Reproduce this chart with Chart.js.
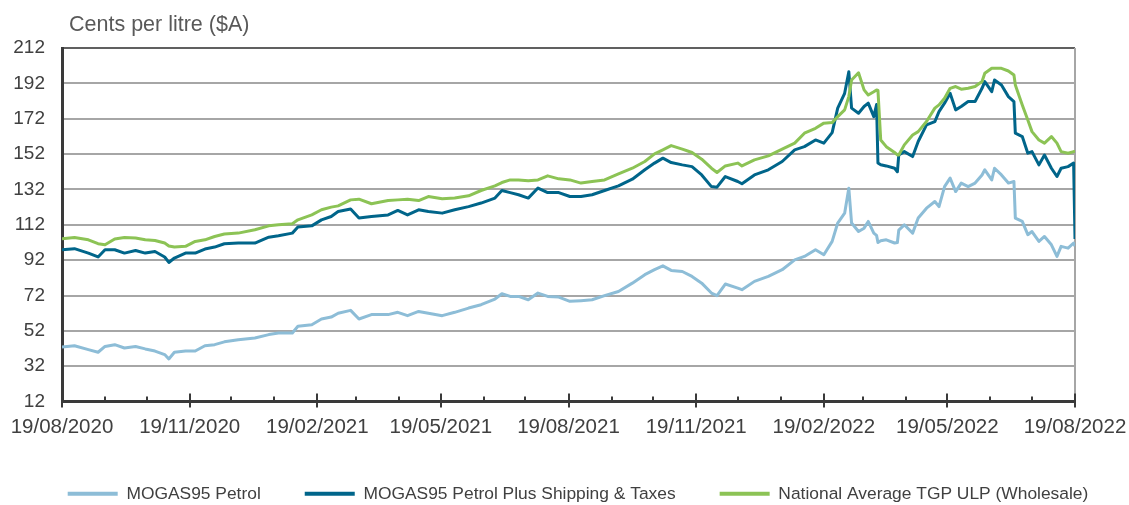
<!DOCTYPE html>
<html>
<head>
<meta charset="utf-8">
<script src="https://cdn.jsdelivr.net/npm/chart.js@4.4.1/dist/chart.umd.min.js"></script>
<style>
  html, body { margin: 0; padding: 0; background: #fff; }
</style>
</head>
<body>
<canvas id="chart" width="1129" height="505"></canvas>
<script>
// axis labels
const yTitle = 'Cents per litre ($A)';
const tickLabels = ['19/08/2020', '19/11/2020', '19/02/2021', '19/05/2021', '19/08/2021',
                    '19/11/2021', '19/02/2022', '19/05/2022', '19/08/2022'];
const yMin = 12, yMax = 212, yStep = 20;

// days after 19/08/2020
const days = [0, 9, 19, 26, 31, 38, 45, 53, 60, 67, 74, 77, 81, 89, 96, 103, 110, 117, 127, 139,
  149, 156, 166, 170, 180, 187, 194, 199, 208, 214, 223, 235, 242, 249, 257, 264, 274, 283, 293, 302,
  312, 317, 323, 329, 336, 343, 350, 358, 366, 374, 382, 391, 401, 411, 420, 427, 433, 439, 447, 454,
  461, 468, 472, 478, 487, 490, 499, 509, 519, 528, 535, 543, 549, 555, 559, 564, 567, 569, 574, 578,
  581, 585, 587, 588, 590, 594, 600, 602, 603, 607, 613, 617, 623, 629, 632, 636, 640, 644, 648, 653,
  658, 663, 665, 670, 672, 677, 682, 686, 687, 692, 696, 699, 704, 708, 713, 717, 720, 725, 729, 730];

const mogas = [42.9, 43.6, 41.4, 39.9, 43.2, 44.2, 42.3, 43.2, 41.8, 40.6, 38.6, 36.1, 39.9, 40.6, 40.6, 43.6, 44.2, 45.8, 47, 48,
  49.9, 50.8, 50.8, 54.6, 55.5, 58.7, 59.8, 62, 63.6, 58.7, 61.2, 61.2, 62.5, 60.6, 63, 62, 60.6, 62.5, 64.9, 66.8,
  70, 73, 71.5, 71.5, 69.6, 73.4, 71.5, 71.1, 68.7, 69.1, 69.6, 71.9, 74.3, 79, 83.8, 86.6, 88.8, 86.2, 85.6, 82.8,
  79, 73.4, 71.9, 78.5, 76.2, 75.3, 80, 82.8, 86.6, 92.2, 94.1, 97.9, 95.1, 102.6, 113, 118.6, 132.7, 113, 108.2, 110.1,
  113.9, 107.3, 106, 102, 103, 103.5, 101.7, 102, 109, 112, 107.3, 115.8, 121.4, 125.2, 122.3, 133.6, 138.4, 130.8, 135.6, 133.6,
  135.6, 140.2, 143.1, 137.4, 144, 140.2, 135.6, 136.5, 115.8, 113.9, 106.4, 108.2, 102.6, 105.4, 100.7, 94.1, 99.8, 98.8, 101.7, 100];

const mogasPlus = [97.9, 98.5, 96, 93.8, 97.9, 97.9, 96, 97.5, 96, 96.9, 93.8, 90.7, 93.2, 96, 96, 98.3, 99.4, 101.3, 101.7, 101.7,
  105, 105.8, 107.3, 110.7, 111.4, 114.8, 116.7, 119.5, 120.9, 115.8, 116.7, 117.6, 120.1, 117.6, 120.5, 119.5, 118.6, 120.5, 122.3, 124.3,
  127.1, 131.4, 130.2, 129, 127.1, 132.8, 130.2, 130.2, 128, 128, 129, 131.4, 134, 137.8, 143.1, 146.9, 149.7, 147.2, 145.9, 144.9,
  140.2, 133.6, 133.3, 139.3, 136.5, 135.2, 140.2, 143.1, 147.8, 154.4, 156.2, 160, 158.2, 164.1, 178, 186.4, 198.6, 178, 175.1, 178.9,
  180.8, 173.2, 180, 147, 146, 145.3, 144, 142, 151.5, 153.4, 150.6, 159.1, 168.5, 170.4, 176, 180.8, 186.4, 177, 178.9, 181.7,
  181.7, 189.2, 193, 187.3, 193.9, 191.1, 184.5, 181.7, 163.8, 161.9, 152.5, 153.4, 145.9, 151.5, 144, 139.3, 144, 144.9, 146.9, 104];

const tgp = [104.1, 104.8, 103.5, 101.3, 100.7, 104, 104.8, 104.5, 103.5, 103.1, 101.7, 100, 99.4, 99.8, 102.6, 103.5, 105.4, 106.8, 107.3, 109.2,
  111.4, 112, 112.6, 114.8, 117.6, 120.5, 122, 122.7, 126.1, 126.5, 123.9, 125.7, 126.1, 126.5, 125.7, 128, 126.7, 127.1, 128.4, 131.4,
  134, 135.9, 137.4, 137.4, 136.9, 137.4, 139.7, 138, 137.4, 135.6, 136.5, 137.4, 140.8, 144, 147.8, 152.1, 154.4, 156.8, 154.8, 152.9,
  149.1, 144, 141.6, 145.3, 146.9, 145.3, 148.7, 151, 154.8, 158.2, 163.8, 166.6, 169.5, 169.8, 173.2, 177, 184.5, 193.9, 198, 188.3,
  185.4, 187.3, 188.3, 188, 160, 156.2, 152.9, 151.5, 151.5, 157.2, 162.8, 164.7, 170.4, 178, 179.8, 183.6, 189.2, 190.2, 188.7, 189.2,
  190.2, 193, 197.7, 200.5, 200.5, 200.5, 199, 196.7, 191.1, 179.8, 171.3, 164.7, 160, 158.2, 161.9, 158.2, 153.4, 152.5, 153.4, 153.4];

const seriesNames = ['MOGAS95 Petrol', 'MOGAS95 Petrol Plus Shipping & Taxes', 'National Average TGP ULP (Wholesale)'];
const seriesColors = ['#8dbdd7', '#00658a', '#8cc355'];

// date helpers
const DAY = 86400000;
const toUtc = (s) => { const [d, m, y] = s.split('/').map(Number); return Date.UTC(y, m - 1, d); };
const startMs = toUtc(tickLabels[0]);
const endMs = toUtc(tickLabels[tickLabels.length - 1]);
const quarterDays = tickLabels.map(s => Math.round((toUtc(s) - startMs) / DAY));
const monthDays = [];
{
  const s = new Date(startMs);
  for (let i = 0; ; i++) {
    const t = Date.UTC(s.getUTCFullYear(), s.getUTCMonth() + i, 19);
    if (t > endMs) break;
    monthDays.push(Math.round((t - startMs) / DAY));
  }
}

const FONT = '"Liberation Sans", Arial, sans-serif';
Chart.defaults.font.family = FONT;
Chart.defaults.color = '#404040';

const toPoints = (vals) => days.map((d, i) => ({ x: d, y: vals[i] }));

const decor = {
  id: 'decor',
  beforeDatasetsDraw(chart) {
    const { ctx, chartArea: a } = chart;
    ctx.save();
    ctx.strokeStyle = '#a6a6a6';
    ctx.lineWidth = 2;
    ctx.beginPath();
    ctx.moveTo(a.right, a.top);
    ctx.lineTo(a.right, a.bottom);
    ctx.stroke();
    ctx.restore();
  },
  afterDraw(chart) {
    const { ctx, chartArea: a, scales: { x } } = chart;
    ctx.save();
    ctx.strokeStyle = '#3a3a3a';
    ctx.lineWidth = 2;
    monthDays.forEach(d => {
      const px = Math.round(x.getPixelForValue(d));
      const major = quarterDays.includes(d);
      ctx.beginPath();
      ctx.moveTo(px, a.bottom - (major ? 8 : 5));
      ctx.lineTo(px, a.bottom + (major ? 6 : 0));
      ctx.stroke();
    });
    ctx.fillStyle = '#595959';
    ctx.font = '21.5px ' + FONT;
    ctx.textAlign = 'left';
    ctx.textBaseline = 'middle';
    ctx.fillText(yTitle, a.left + 7, a.top - 23);
    ctx.restore();
  },
  afterLayout(chart) {
    const l = chart.legend;
    l.top += 7.5; l.bottom += 7.5;
    l.left += 13.5; l.right += 13.5;
  }
};

new Chart(document.getElementById('chart'), {
  type: 'line',
  data: {
    datasets: [
      { label: seriesNames[0], data: toPoints(mogas), borderColor: seriesColors[0], backgroundColor: seriesColors[0], order: 2 },
      { label: seriesNames[1], data: toPoints(mogasPlus), borderColor: seriesColors[1], backgroundColor: seriesColors[1], order: 1 },
      { label: seriesNames[2], data: toPoints(tgp), borderColor: seriesColors[2], backgroundColor: seriesColors[2], order: 0 }
    ]
  },
  options: {
    responsive: false,
    animation: false,
    layout: { padding: { top: 48, right: 0, bottom: 0, left: 0 } },
    elements: {
      line: { borderWidth: 3, tension: 0, borderJoinStyle: 'round' },
      point: { radius: 0, hoverRadius: 0 }
    },
    scales: {
      x: {
        type: 'linear',
        min: 0,
        max: quarterDays[quarterDays.length - 1],
        afterBuildTicks: (scale) => { scale.ticks = quarterDays.map(v => ({ value: v })); },
        afterFit: (scale) => { scale.height = 32; scale.paddingRight = 54; scale.paddingLeft = 0; },
        grid: { display: false, drawTicks: false },
        border: { display: true, color: '#3a3a3a', width: 3 },
        ticks: {
          autoSkip: false, maxRotation: 0, padding: 13,
          font: { size: 20.5 }, color: '#404040',
          callback: (v, i) => tickLabels[i]
        }
      },
      y: {
        min: yMin, max: yMax,
        afterFit: (scale) => { scale.width = 62; scale.paddingTop = 0; },
        grid: {
          drawTicks: false, lineWidth: 2,
          color: (c) => c.tick && c.tick.value === yMax ? '#606060' : '#a6a6a6'
        },
        border: { display: true, color: '#3a3a3a', width: 3 },
        ticks: { stepSize: yStep, padding: 17, font: { size: 19 }, color: '#404040' }
      }
    },
    plugins: {
      tooltip: { enabled: false },
      legend: {
        position: 'bottom',
        labels: {
          boxWidth: 50, boxHeight: 4, padding: 44,
          font: { size: 17.4 }, color: '#404040',
          sort: (a, b) => a.datasetIndex - b.datasetIndex,
          generateLabels: (chart) => Chart.defaults.plugins.legend.labels.generateLabels(chart)
            .map(l => Object.assign(l, { lineWidth: 0 }))
        }
      }
    }
  },
  plugins: [decor]
});
</script>
</body>
</html>
